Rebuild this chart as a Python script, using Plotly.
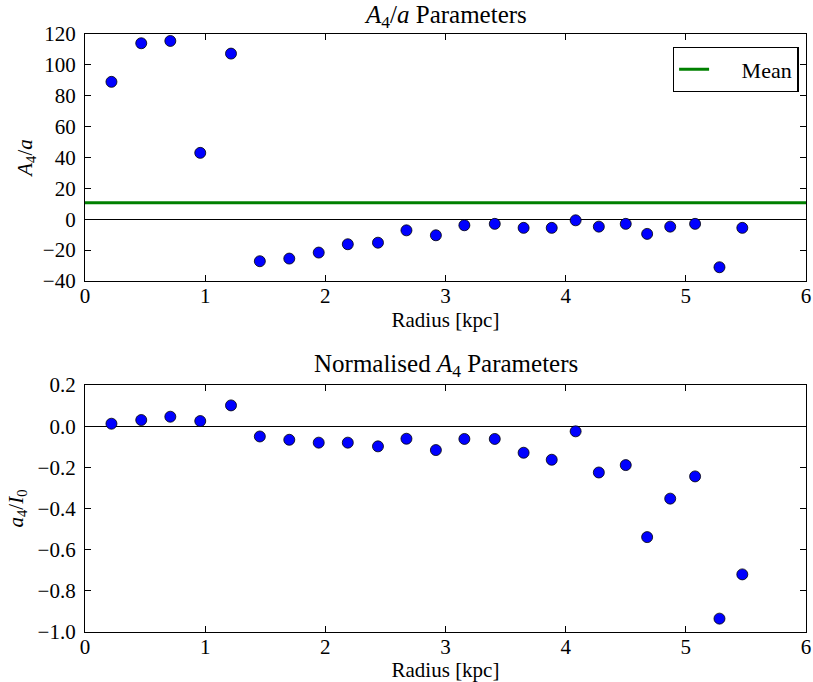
import plotly.graph_objects as go
from plotly.subplots import make_subplots

# ---- data ----
radius = [0.22, 0.468, 0.71, 0.959, 1.215, 1.455, 1.70, 1.945, 2.187, 2.438,
          2.675, 2.92, 3.157, 3.41, 3.65, 3.884, 4.083, 4.276, 4.50, 4.678,
          4.87, 5.077, 5.28, 5.47]
a4_over_a = [89.0, 114.0, 115.5, 43.0, 107.3, -27.2, -25.5, -21.6, -16.2, -15.2,
             -7.2, -10.4, -3.9, -3.0, -5.6, -5.6, -0.7, -4.8, -3.0, -9.5,
             -4.8, -3.0, -31.1, -5.6]
a4_norm = [0.012, 0.030, 0.046, 0.025, 0.101, -0.050, -0.066, -0.080, -0.080, -0.098,
           -0.061, -0.116, -0.062, -0.062, -0.129, -0.163, -0.025, -0.225, -0.189, -0.539,
           -0.352, -0.244, -0.935, -0.720]
mean_value = 10.7

x_ticks = [0, 1, 2, 3, 4, 5, 6]
top_y_ticks = [-40, -20, 0, 20, 40, 60, 80, 100, 120]
bot_y_ticks = [-1.0, -0.8, -0.6, -0.4, -0.2, 0.0, 0.2]

FONT = "Liberation Serif, Times New Roman, serif"
TICK_SIZE = 21
TITLE_SIZE = 25

fig = make_subplots(rows=2, cols=1, vertical_spacing=0.174)

marker = dict(color="#0000ff", size=11, line=dict(color="black", width=0.8))

fig.add_trace(go.Scatter(x=radius, y=a4_over_a, mode="markers", marker=marker,
                         showlegend=False), row=1, col=1)
fig.add_trace(go.Scatter(x=radius, y=a4_norm, mode="markers", marker=marker,
                         showlegend=False), row=2, col=1)

# mean line (horizontal) + legend entry
fig.add_shape(type="line", xref="x domain", yref="y", x0=0, x1=1,
              y0=mean_value, y1=mean_value,
              line=dict(color="#008000", width=3), layer="below")
fig.add_trace(go.Scatter(x=[None], y=[None], mode="lines",
                         line=dict(color="#008000", width=3),
                         name="\u00a0\u00a0\u00a0\u00a0\u00a0Mean", showlegend=True), row=1, col=1)

axis_common = dict(showline=True, linecolor="black", linewidth=1.3, mirror="ticks",
                   ticks="inside", ticklen=6, tickcolor="black", tickwidth=1,
                   showgrid=False, ticklabeloverflow="allow",
                   tickfont=dict(family=FONT, size=TICK_SIZE, color="black"))

for r in (1, 2):
    fig.update_xaxes(range=[0, 6], tickvals=x_ticks, zeroline=False,
                     ticklabelstandoff=-4,
                     title=dict(text="Radius [kpc]",
                                font=dict(family=FONT, size=TICK_SIZE, color="black"),
                                standoff=2),
                     **axis_common, row=r, col=1)

fig.update_yaxes(range=[-40, 120], tickvals=top_y_ticks, zeroline=True,
                 zerolinecolor="black", zerolinewidth=1.3, ticklabelstandoff=4,
                 title=dict(text="<i>A</i><sub>4</sub>/<i>a</i>",
                            font=dict(family=FONT, size=TICK_SIZE, color="black"),
                            standoff=4),
                 **axis_common, row=1, col=1)
fig.update_yaxes(range=[-1.0, 0.2], tickvals=bot_y_ticks, tickformat=".1f",
                 zeroline=True, zerolinecolor="black", zerolinewidth=1.3, ticklabelstandoff=4,
                 title=dict(text="<i>a</i><sub>4</sub>/<i>I</i><sub>0</sub>",
                            font=dict(family=FONT, size=TICK_SIZE, color="black"),
                            standoff=8),
                 **axis_common, row=2, col=1)

# subplot titles
fig.add_annotation(text="<i>A</i><sub>4</sub>/<i>a</i> Parameters", xref="x domain", yref="y domain",
                   x=0.5, y=1.0, yshift=0, xanchor="center", yanchor="bottom", showarrow=False,
                   font=dict(family=FONT, size=TITLE_SIZE, color="black"), row=1, col=1)
fig.add_annotation(text="Normalised <i>A</i><sub>4</sub> Parameters", xref="x2 domain", yref="y2 domain",
                   x=0.5, y=1.0, yshift=2, xanchor="center", yanchor="bottom", showarrow=False,
                   font=dict(family=FONT, size=TITLE_SIZE, color="black"))

fig.update_layout(
    width=813, height=682,
    margin=dict(l=85, r=2, t=34, b=50),
    paper_bgcolor="white", plot_bgcolor="white",
    font=dict(family=FONT, color="black"),
    legend=dict(x=0.99, y=0.978, xanchor="right", yanchor="top",
                bgcolor="white", bordercolor="black", borderwidth=1.3,
                font=dict(family=FONT, size=22, color="black")),
)

fig.write_html("out.html")
